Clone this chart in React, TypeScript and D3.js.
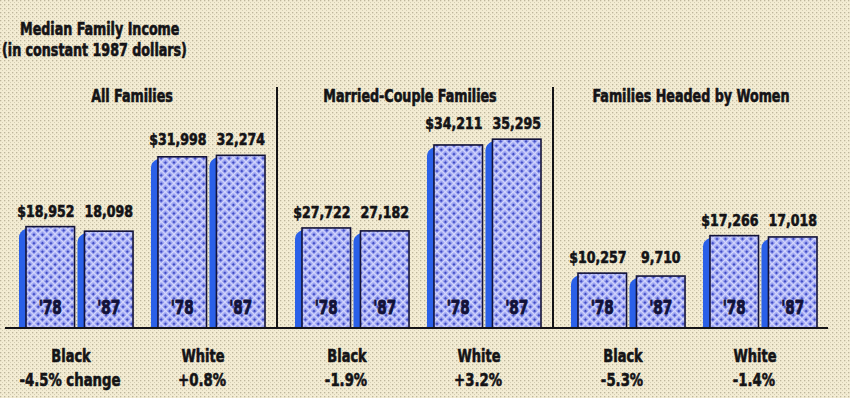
import React from "react";
import * as d3 from "d3";

// ---------- data ----------
const groups = ["All Families", "Married-Couple Families", "Families Headed by Women"];
const races = ["Black", "White"];
const years = ["'78", "'87"];

const incomeBlack78 = [18952, 27722, 10257];
const incomeBlack87 = [18098, 27182, 9710];
const incomeWhite78 = [31998, 34211, 17266];
const incomeWhite87 = [32274, 35295, 17018];

// bar heights as drawn in the original graphic (the married-couple Black bars
// are drawn at about the same height as the all-families Black bars)
const drawnBlack78 = [18952, 18700, 10257];
const drawnBlack87 = [18098, 18150, 9710];
const drawnWhite78 = [31998, 34211, 17266];
const drawnWhite87 = [32274, 35295, 17018];

const changeBlack = ["-4.5% change", "-1.9%", "-5.3%"];
const changeWhite = ["+0.8%", "+3.2%", "-1.4%"];

const titleLines = ["Median Family Income", "(in constant 1987 dollars)"];

// ---------- layout ----------
const W = 850;
const H = 398;
const BASE = 328;
const FONT = "'DejaVu Sans Condensed', 'Liberation Sans Narrow', 'Liberation Sans', sans-serif";
const INK = "#141316";
const NAVY = "#121238";
const SHADOW = "#2a60e8";
const DEPTH = 7;

type TProps = {
  x: number;
  y: number;
  size: number;
  sx?: number;
  anchor?: "start" | "middle" | "end";
  fill?: string;
  heavy?: number;
  children: React.ReactNode;
};

function T({ x, y, size, sx = 0.85, anchor = "middle", fill = INK, heavy = 0.6, children }: TProps) {
  return (
    <text
      transform={`translate(${x},${y}) scale(${sx},1)`}
      textAnchor={anchor}
      fontSize={size}
      fill={fill}
      stroke={fill}
      strokeWidth={heavy}
      strokeLinejoin="round"
      fontWeight="bold"
    >
      {children}
    </text>
  );
}

export default function App() {
  const y = d3.scaleLinear().domain([0, 36000]).range([BASE, BASE - 36 * 5.35]);
  const gx = d3.scaleBand<string>().domain(groups).range([1, 829]).padding(0);
  const rx = d3.scaleBand<string>().domain(races).range([18, 264]).paddingInner(0.136).paddingOuter(0);
  const yx = d3.scaleBand<string>().domain(years).range([0, rx.bandwidth()]).paddingInner(0.05).paddingOuter(0);
  const fmt = d3.format(",");

  const values: Record<string, number[][]> = {
    Black: [incomeBlack78, incomeBlack87],
    White: [incomeWhite78, incomeWhite87],
  };
  const drawn: Record<string, number[][]> = {
    Black: [drawnBlack78, drawnBlack87],
    White: [drawnWhite78, drawnWhite87],
  };
  const changes: Record<string, string[]> = { Black: changeBlack, White: changeWhite };

  const LBL = 15.5;
  const LBL_SX = 0.9;
  const labelWidth = (s: string) =>
    s.split("").reduce((w, c) => w + (c === "," ? 0.34 : 0.626) * LBL * LBL_SX, 0);

  return (
    <svg
      width={W}
      height={H}
      style={{ position: "absolute", left: 0, top: 0 }}
      fontFamily={FONT}
    >
      <defs>
        <pattern id="paper" width="4" height="4" patternUnits="userSpaceOnUse">
          <rect width="4" height="4" fill="#f3ecd3" />
          <rect x="0" y="0" width="1.3" height="1.3" fill="#bdb59b" />
          <rect x="2" y="2" width="1" height="1" fill="#d4cdb3" />
        </pattern>
        <pattern
          id="weave"
          width="6"
          height="6"
          patternUnits="userSpaceOnUse"
          patternTransform="rotate(45)"
        >
          <rect width="6" height="6" fill="#939cef" />
          <rect x="0" y="0" width="6" height="1.4" fill="#d4d7fc" />
          <rect x="0" y="0" width="1.4" height="6" fill="#d4d7fc" />
          <rect x="3" y="3" width="1.9" height="1.9" fill="#3a44c0" />
        </pattern>
      </defs>

      <rect width={W} height={H} fill="url(#paper)" />

      {/* title */}
      <T x={20} y={35} size={17} sx={0.83} anchor="start">
        {titleLines[0]}
      </T>
      <T x={2} y={56} size={17} sx={0.83} anchor="start">
        {titleLines[1]}
      </T>

      {/* dividers */}
      {groups.slice(1).map((g) => (
        <line key={g} x1={gx(g)!} x2={gx(g)!} y1={87} y2={BASE} stroke={INK} strokeWidth={2} />
      ))}

      {groups.map((g, gi) => {
        const g0 = gx(g)!;
        return (
          <g key={g}>
            <T x={g0 + 142 - (gi === 0 ? 11 : gi === 1 ? 9 : 4)} y={102} size={17} sx={0.83}>
              {g}
            </T>
            {races.map((r) => {
              const r0 = g0 + rx(r)!;
              const topPair = Math.min(...years.map((_, yi) => y(drawn[r][yi][gi])));
              return (
                <g key={r}>
                  {years.map((yr, yi) => {
                    const x0 = r0 + yx(yr)!;
                    const fw = yx.bandwidth() - DEPTH;
                    const fx = x0 + DEPTH;
                    const top = y(drawn[r][yi][gi]);
                    const cx = fx + fw / 2;
                    const label = fmt(values[r][yi][gi]);
                    return (
                      <g key={yr}>
                        <path
                          d={`M${x0},${BASE} L${x0},${top + 11} Q${x0},${top + 5} ${fx},${top + 2} L${fx},${BASE} Z`}
                          fill={SHADOW}
                        />
                        <rect
                          x={fx}
                          y={top}
                          width={fw}
                          height={BASE - top}
                          fill="url(#weave)"
                          stroke={NAVY}
                          strokeWidth={1.6}
                        />
                        <T x={cx} y={314} size={19} sx={0.8} fill={NAVY} heavy={0.8}>
                          {yr}
                        </T>
                        <T x={cx} y={topPair - 10} size={LBL} sx={LBL_SX}>
                          {label}
                        </T>
                        {yi === 0 && (
                          <T x={cx - labelWidth(label) / 2} y={topPair - 10} size={LBL} sx={LBL_SX} anchor="end">
                            $
                          </T>
                        )}
                      </g>
                    );
                  })}
                  <T x={r0 + rx.bandwidth() / 2 - 5} y={362} size={18} sx={0.8}>
                    {r}
                  </T>
                  <T x={r0 + rx.bandwidth() / 2 - 6} y={386} size={18} sx={0.82}>
                    {changes[r][gi]}
                  </T>
                </g>
              );
            })}
          </g>
        );
      })}

      {/* baseline */}
      <line x1={5} x2={828} y1={BASE} y2={BASE} stroke={INK} strokeWidth={2} />
    </svg>
  );
}
